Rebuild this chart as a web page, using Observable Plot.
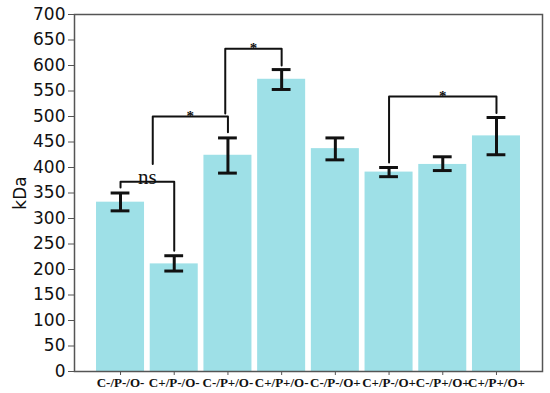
<!DOCTYPE html>
<html><head><meta charset="utf-8">
<script src="https://cdn.jsdelivr.net/npm/d3@7"></script>
<script src="https://cdn.jsdelivr.net/npm/@observablehq/plot@0.6"></script>
<style>
body{margin:0;background:#fff}
g[aria-label="y-axis tick label"] text, g[aria-label="y-axis tick label"] {font-family:"DejaVu Sans" !important; font-size:17px !important;}
g[aria-label="y-axis label"] text, g[aria-label="y-axis label"] {font-family:"DejaVu Sans" !important; font-size:17px !important;}
g[aria-label="x-axis tick label"] text, g[aria-label="x-axis tick label"] {font-family:"Liberation Serif" !important; font-size:13px !important; font-weight:bold !important;}
.ns-label, .ns-label text {font-family:"Liberation Serif" !important; font-size:21px !important;}
.star-label, .star-label text {font-family:"Liberation Serif" !important; font-size:15px !important; font-weight:bold !important;}
</style>
</head><body><div id="chart"></div>
<script>
const categories = ["C-/P-/O-", "C+/P-/O-", "C-/P+/O-", "C+/P+/O-", "C-/P-/O+", "C+/P-/O+", "C-/P+/O+", "C+/P+/O+"];
const means = [332, 211, 424, 573, 437, 391, 406, 462];
const errLow = [315, 197, 389, 553, 415, 382, 394, 425];
const errHigh = [350, 227, 458, 592, 458, 400, 421, 498];
const yTicks = [0, 50, 100, 150, 200, 250, 300, 350, 400, 450, 500, 550, 600, 650, 700];

// significance brackets (x in category index units, y in kDa)
const bracketFrom = [0, 0.6, 1.95, 5];
const bracketTo = [1, 2, 3, 7];
const bracketTop = [372, 500, 633, 539];
const bracketFromEnd = [361, 407, 506, 410];
const bracketToEnd = [237, 469, 600, 507];
const bracketLabels = ["ns", "*", "*", "*"];

const bars = categories.map((c, i) => ({i, c, mean: means[i], lo: errLow[i], hi: errHigh[i]}));
const bracketPts = bracketLabels.flatMap((l, k) => [
  {k, x: bracketFrom[k], y: bracketFromEnd[k]},
  {k, x: bracketFrom[k], y: bracketTop[k]},
  {k, x: bracketTo[k], y: bracketTop[k]},
  {k, x: bracketTo[k], y: bracketToEnd[k]}
]);
const bracketText = bracketLabels.map((l, k) => ({label: l, x: (bracketFrom[k] + bracketTo[k]) / 2, y: bracketTop[k]}));

const chart = Plot.plot({
  width: 550, height: 393,
  marginLeft: 74, marginRight: 8, marginTop: 14, marginBottom: 22,
  style: {fontFamily: "DejaVu Sans", background: "#fff", overflow: "visible"},
  x: {domain: [-0.857, 7.857]},
  y: {domain: [0, 700]},
  marks: [
    Plot.rectY(bars, {x1: d => d.i - 0.447, x2: d => d.i + 0.447, y1: 0, y2: "mean", fill: "#9ee0e7"}),
    Plot.ruleX(bars, {x: "i", y1: "lo", y2: "hi", stroke: "#111", strokeWidth: 3}),
    Plot.ruleY(bars, {y: "lo", x1: d => d.i - 0.175, x2: d => d.i + 0.175, stroke: "#111", strokeWidth: 3}),
    Plot.ruleY(bars, {y: "hi", x1: d => d.i - 0.175, x2: d => d.i + 0.175, stroke: "#111", strokeWidth: 3}),
    Plot.line(bracketPts, {x: "x", y: "y", z: "k", stroke: "#111", strokeWidth: 2, curve: "linear"}),
    Plot.text(bracketText.filter(d => d.label === "ns"), {x: "x", y: "y", text: "label", lineAnchor: "bottom", dy: 2, fill: "#111", className: "ns-label"}),
    Plot.text(bracketText.filter(d => d.label !== "ns"), {x: "x", y: "y", text: "label", lineAnchor: "bottom", dy: 4, fill: "#111", className: "star-label"}),
    Plot.axisY({ticks: yTicks, tickSize: 6, tickPadding: 3, label: "kDa", labelAnchor: "center", labelArrow: "none", labelOffset: 61, stroke: "#555", fill: "#111"}),
    Plot.axisX({ticks: categories.map((c, i) => i), tickFormat: i => categories[i], tickSize: 4, tickPadding: 2, label: null, stroke: "#555", fill: "#111"}),
    Plot.frame({stroke: "#555", strokeWidth: 1.5})
  ]
});
document.getElementById("chart").appendChild(chart);
</script>
</body></html>
